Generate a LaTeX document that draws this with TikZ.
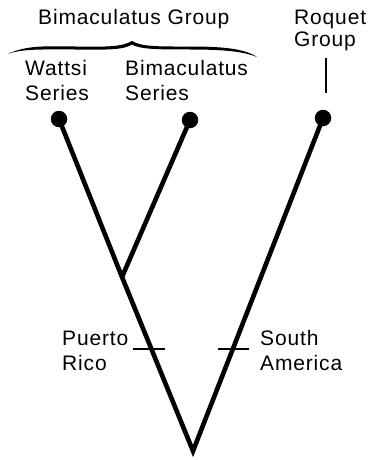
\documentclass[tikz,border=0pt]{standalone}
\usepackage{fontspec}
\setmainfont[LetterSpace=4]{Liberation Sans}
\begin{document}
\begin{tikzpicture}[x=1pt,y=-1pt,
  lbl/.style={anchor=base west,inner sep=0pt,font=\fontsize{21}{24}\selectfont},
  dotnode/.style={circle,fill=black,minimum size=16.5pt,inner sep=0pt},
  branch/.style={line width=4.6pt,line join=miter,miter limit=20},
  crosstick/.style={line width=1.8pt},
  stem/.style={line width=2.2pt}]
\useasboundingbox[fill=white] (0,0) rectangle (368,460);
% dots
\node[dotnode] (w) at (59,119) {};
\node[dotnode] (b) at (190,120) {};
\node[dotnode] (r) at (323,118) {};
\coordinate (root) at (193,451);
\coordinate (j) at (122,277);
% branches
\draw[branch] (w.center) -- (j) -- (root) -- (r.center);
\draw[branch] (b.center) -- (j);
% ticks
\coordinate (pra) at (133,349);
\coordinate (prb) at (165,349);
\coordinate (saa) at (218,349);
\coordinate (sab) at (249,349);
\draw[crosstick] (pra) -- (prb);
\draw[crosstick] (saa) -- (sab);
% Roquet stem
\coordinate (rqa) at (326,58);
\coordinate (rqb) at (326,93);
\draw[stem] (rqa) -- (rqb);
% brace
\fill (8,54) .. controls (25,45.5) and (45,46) .. (75,46.5)
  .. controls (105,47) and (122,47) .. (132,41)
  .. controls (142,47) and (160,46.5) .. (190,46.5)
  .. controls (225,46.5) and (245,49) .. (257,57)
  .. controls (243,51.5) and (225,49.5) .. (190,49.5)
  .. controls (160,49.5) and (140,49.5) .. (132,44.5)
  .. controls (124,50) and (105,50) .. (75,49.5)
  .. controls (45,49.5) and (22,48.5) .. (8,54) -- cycle;
% labels
\node[lbl] (bg) at (38,25) {Bimaculatus Group};
\node[lbl] (rq1) at (294,25) {Roquet};
\node[lbl] (rq2) at (294,47) {Group};
\node[lbl] (ws1) at (25,75) {Wattsi};
\node[lbl] (ws2) at (25,100) {Series};
\node[lbl] (bs1) at (125,75) {Bimaculatus};
\node[lbl] (bs2) at (125,100) {Series};
\node[lbl] (pr1) at (62,345) {Puerto};
\node[lbl] (pr2) at (62,370) {Rico};
\node[lbl] (sa1) at (260,345) {South};
\node[lbl] (sa2) at (260,370) {America};
\end{tikzpicture}
\end{document}
